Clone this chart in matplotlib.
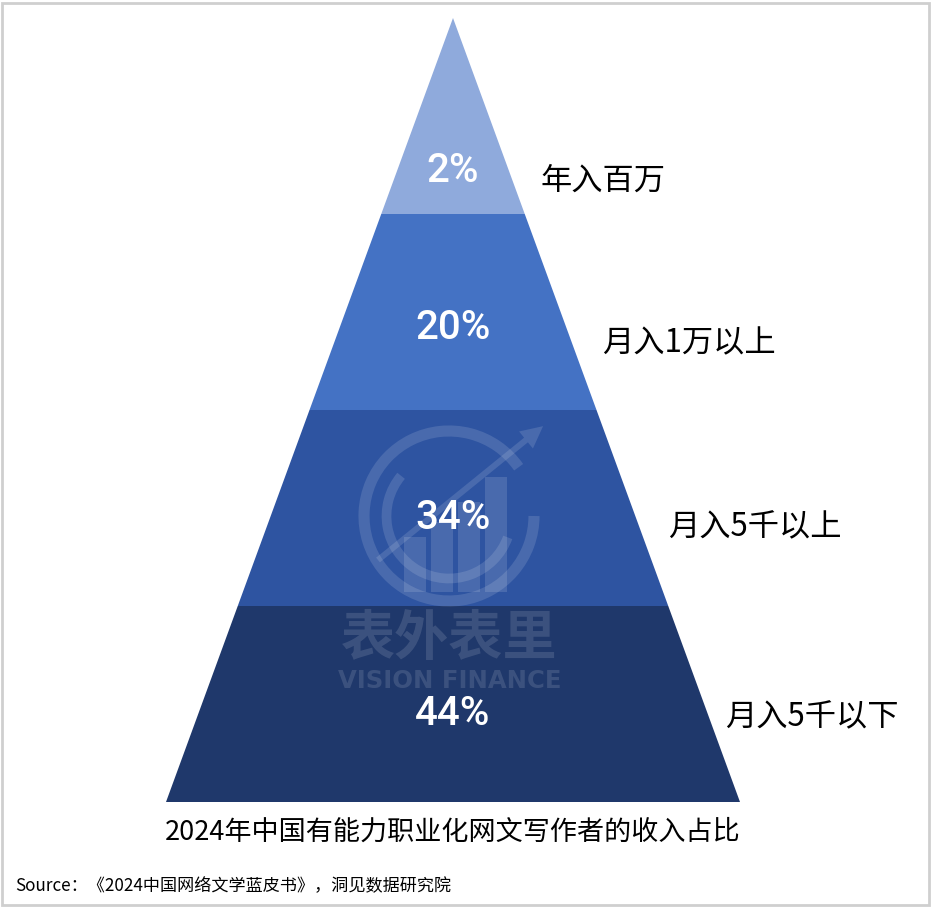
import matplotlib.pyplot as plt
from matplotlib.patches import Polygon, Rectangle, Arc, FancyArrow

plt.rcParams['font.family'] = ['Noto Sans CJK SC', 'DejaVu Sans']

# 数据：从上到下
levels = ['年入百万', '月入1万以上', '月入5千以上', '月入5千以下']
shares = [2, 20, 34, 44]
colors = ['#8FAADC', '#4472C4', '#2E54A1', '#1F386B']
title = '2024年中国有能力职业化网文写作者的收入占比'
source = 'Source：《2024中国网络文学蓝皮书》，洞见数据研究院'

W, H = 932, 908
fig = plt.figure(figsize=(W / 100, H / 100), dpi=100)
ax = fig.add_axes([0, 0, 1, 1])
ax.set_xlim(0, W)
ax.set_ylim(H, 0)
ax.axis('off')

# 外框
ax.add_patch(Rectangle((2, 3), W - 5, H - 6, fill=False, edgecolor='#cfcfcf', lw=2))

# 金字塔几何
cx, top, bottom, half_base = 453, 18, 802, 287
n = len(levels)
step = (bottom - top) / n
pct_pos = [0.78, 0.58, 0.55, 0.55]
lab_pos = [0.83, 0.66, 0.60, 0.57]
lab_gap = [28, 30, 29, 16]


def half_width(y):
    return half_base * (y - top) / (bottom - top)


for i, (lab, val, col) in enumerate(zip(levels, shares, colors)):
    y0 = top + i * step
    y1 = y0 + step
    w0, w1 = half_width(y0), half_width(y1)
    pts = [(cx - w0, y0), (cx + w0, y0), (cx + w1, y1), (cx - w1, y1)]
    ax.add_patch(Polygon(pts, closed=True, facecolor=col, edgecolor='none'))
    ym = y0 + step * pct_pos[i]
    ax.text(cx, ym, f'{val}%', ha='center', va='center', color='white',
            fontsize=29, fontweight='medium', family=['Roboto', 'DejaVu Sans'])
    yl = y0 + step * lab_pos[i]
    ax.text(cx + half_width(yl) + lab_gap[i], yl, lab, ha='left', va='center',
            fontsize=22.5, color='black')

# 水印
wm = dict(color='white', alpha=0.13)
ax.add_patch(Arc((449, 516), 170, 170, theta1=0, theta2=325, lw=8, **wm))
ax.add_patch(Arc((449, 516), 125, 125, theta1=20, theta2=220, lw=7, **wm))
ax.add_patch(FancyArrow(378, 560, 148, -120, width=6, head_width=22,
                        head_length=22, edgecolor='none', facecolor='white', alpha=0.13))
for bx, bh in [(404, 55), (431, 70), (458, 90), (485, 115)]:
    ax.add_patch(Rectangle((bx, 592 - bh), 22, bh, facecolor='white', alpha=0.13, edgecolor='none'))
ax.text(449, 640, '表外表里', ha='center', va='center', fontsize=39, fontweight='bold', **wm)
ax.text(450, 681, 'VISION FINANCE', ha='center', va='center', fontsize=17.5,
        fontweight='bold', family=['DejaVu Sans'], **wm)

# 标题与来源
ax.text(cx, 832, title, ha='center', va='center', fontsize=19.5, color='black')
ax.text(15, 886, source, ha='left', va='center', fontsize=12.3, color='black')

fig.savefig('out.png', dpi=100)
